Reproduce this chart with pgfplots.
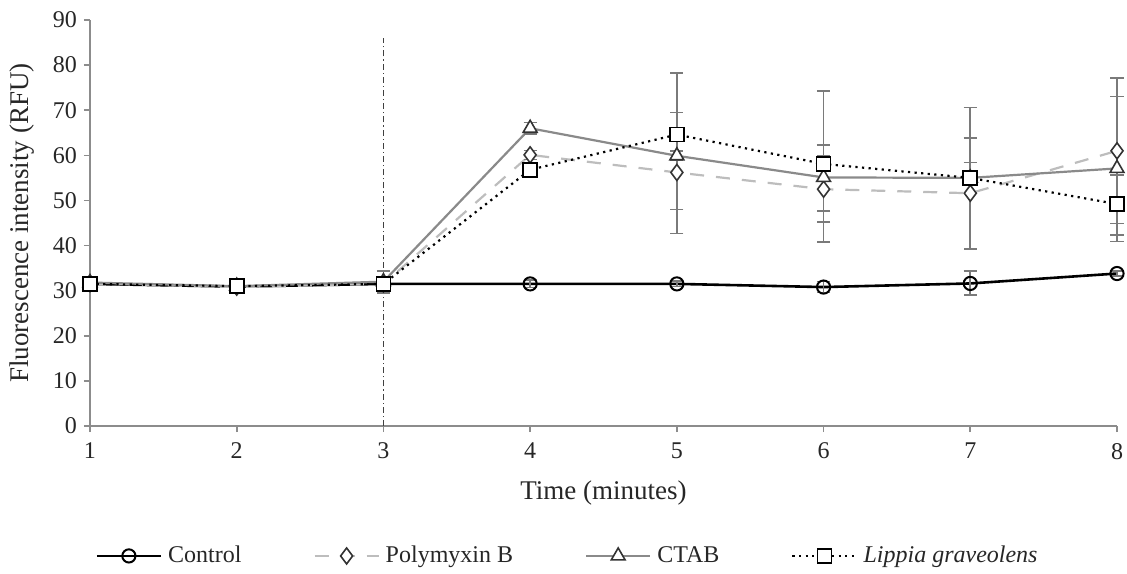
\documentclass[border=0pt]{standalone}
\usepackage{fontspec}
\setmainfont{Liberation Serif}
\usepackage{pgfplots}
\usepackage{pgfplotstable}
\pgfplotsset{compat=1.18}

\definecolor{axisgray}{HTML}{8C8C8C}
\definecolor{ctabgray}{HTML}{8A8A8A}
\definecolor{polygray}{HTML}{BDBDBD}
\definecolor{errgray}{HTML}{7A7A7A}

% x  mean  err+  err-
\pgfplotstableread{
x y ep em
1 31.5 0.5 0.5
2 30.9 0.5 0.5
3 31.5 0.8 0.8
4 31.5 0.8 0.8
5 31.5 0.6 0.6
6 30.8 1.2 1.2
7 31.6 2.7 2.6
8 33.8 0.5 0.5
}\control
\pgfplotstableread{
x y ep em
1 31.6 0.5 0.5
2 30.8 0.5 0.5
3 31.5 1.0 1.0
4 60.1 1.0 1.0
5 56.2 13.3 13.5
6 52.5 7.3 7.3
7 51.6 12.3 12.4
8 61.0 16.1 16.1
}\polymyxin
\pgfplotstableread{
x y ep em
1 31.8 0.5 0.5
2 31.0 0.5 0.5
3 32.0 2.4 2.5
4 66.0 1.3 1.3
5 59.9 1.0 1.0
6 55.1 7.2 7.4
7 55.0 3.4 3.4
8 57.1 15.9 16.2
}\ctab
\pgfplotstableread{
x y ep em
1 31.5 0.5 0.5
2 31.0 0.5 0.5
3 31.5 1.0 1.0
4 56.8 1.0 1.0
5 64.6 13.6 16.6
6 58.1 16.1 17.3
7 55.0 15.6 15.8
8 49.2 6.4 6.8
}\lippia

\begin{document}
\begin{tikzpicture}
\begin{axis}[
  scale only axis,
  width=513.5pt, height=203pt,
  xmin=1, xmax=8, ymin=0, ymax=90,
  xtick={1,...,8}, ytick={0,10,...,90},
  axis x line=bottom, axis y line=left,
  axis line style={axisgray, line width=0.8pt, -},
  tick style={axisgray, line width=0.8pt},
  tick align=outside, major tick length=3pt,
  tick label style={font=\fontsize{12}{14}\selectfont, text=black!85},
  xticklabel style={yshift=-2pt},
  /pgf/number format/assume math mode=true,
  xlabel={Time (minutes)},
  ylabel={Fluorescence intensity (RFU)},
  label style={font=\fontsize{13.5}{16}\selectfont, text=black!85},
  xlabel style={at={(axis description cs:0.5,-0.165)}, anchor=center},
  ylabel style={at={(axis description cs:-0.066,0.5)}, anchor=center},
  clip=false,
  legend columns=4,
  legend style={draw=none, fill=none, at={(0.466,-0.32)}, anchor=center,
    font=\fontsize{12}{14}\selectfont, text=black!85,
    /tikz/every odd column/.append style={column sep=1pt},
    /tikz/every even column/.append style={column sep=34pt}},
  legend cell align=left,
  legend image code/.code={\draw[mark repeat=2,mark phase=2,#1] plot coordinates {(0pt,0pt)(16pt,0pt)(32pt,0pt)};},
  error bars/y dir=both, error bars/y explicit,
  error bars/error bar style={errgray, solid, line width=0.8pt},
  error bars/error mark options={rotate=90, errgray, mark size=3.3pt, line width=0.8pt},
]
\addplot[forget plot, black!75, line width=0.7pt, dash pattern=on 3pt off 1.5pt on 0.6pt off 1.5pt]
  coordinates {(3,0) (3,86)};

\addplot[black, line width=1.3pt, mark=o, mark size=3.3pt,
  mark options={solid, fill=white, line width=1pt}]
  table[x=x, y=y, y error plus=ep, y error minus=em] {\control};
\addlegendentry{Control}

\addplot[polygray, line width=1.1pt, dash pattern=on 7pt off 6pt, mark=diamond*, mark size=4pt,
  mark options={solid, fill=white, draw=black!80, line width=0.8pt}]
  table[x=x, y=y, y error plus=ep, y error minus=em] {\polymyxin};
\addlegendentry{Polymyxin B}

\addplot[ctabgray, line width=1.1pt, mark=triangle*, mark size=4pt,
  mark options={solid, fill=white, draw=black!80, line width=0.8pt}]
  table[x=x, y=y, y error plus=ep, y error minus=em] {\ctab};
\addlegendentry{CTAB}

\addplot[black, line width=1.1pt, dash pattern=on 1.1pt off 2.2pt, mark=square*, mark size=3.5pt,
  mark options={solid, fill=white, draw=black, line width=0.8pt}]
  table[x=x, y=y, y error plus=ep, y error minus=em] {\lippia};
\addlegendentry{\textit{Lippia graveolens}}
\end{axis}
\pgfresetboundingbox
\useasboundingbox ([xshift=-45pt, yshift=-73.5pt]current axis.south west)
  rectangle ([xshift=5pt, yshift=10pt]current axis.north east);
\end{tikzpicture}
\end{document}
